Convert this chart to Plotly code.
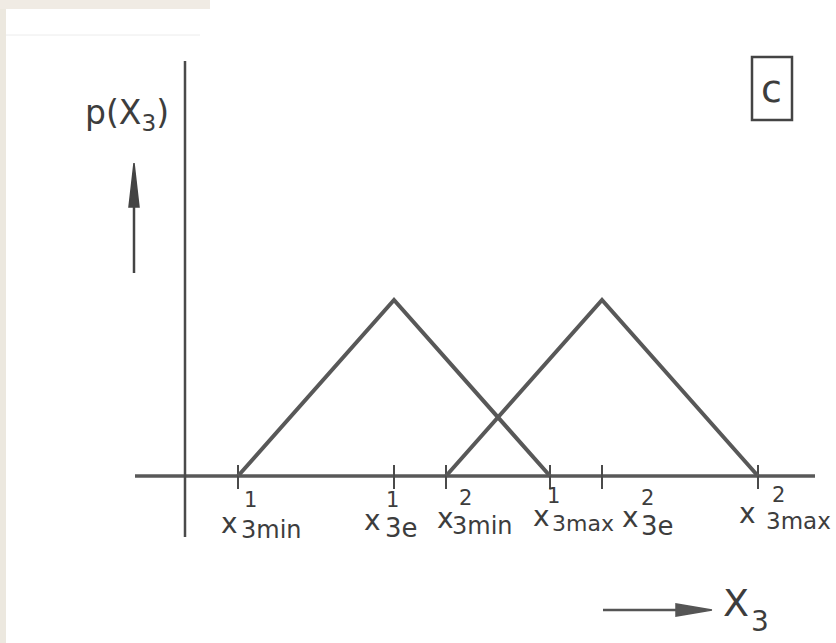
import plotly.graph_objects as go

# ---------------- data ----------------
dist_ids = ["1", "2"]
x_min = [1.0, 5.0]          # x_3min^1, x_3min^2
x_e = [4.0, 8.0]            # x_3e^1,   x_3e^2
x_max = [7.0, 11.0]         # x_3max^1, x_3max^2
p_peak = [1.0, 1.0]         # triangle heights (arbitrary units)

tick_values = [1.0, 4.0, 5.0, 7.0, 8.0, 11.0]
tick_sub = ["3min", "3e", "3min", "3max", "3e", "3max"]
tick_sup = ["1", "1", "2", "1", "2", "2"]

y_title = "p(X<sub>3</sub>)"
x_title_main = "X"
x_title_sub = "3"
panel_tag = "c"

# ---------------- layout constants (pixel geometry) ----------------
W, H = 836, 643
X0_PX, UX = 186.0, 52.0     # pixel of x=0, pixels per x unit
Y0_PX, UY = 476.0, 176.0    # pixel of y=0, pixels per y unit


def px2x(px):
    return (px - X0_PX) / UX


def px2y(py):
    return (Y0_PX - py) / UY


INK = "#3d3d3d"
LINE = "#585858"
FONT = "DejaVu Sans"

# label offsets relative to tick (pixels): (dx, dy) for sup, "x", sub
sup_off = [(12, -24), (-2, -24), (19, -22), (3, -20), (45, -22), (20, -19)]
x_off = [(-9, -47), (-22, -44), (-1, -42), (-9, -40), (28, -41), (-11, -37)]
sub_off = [(33, -54), (7, -52), (36, -50), (33, -47), (55, -50), (40, -45)]
sub_size = [24, 26, 24, 22, 26, 23]

fig = go.Figure()

# axes lines
fig.add_trace(go.Scatter(x=[px2x(135), px2x(815)], y=[0, 0], mode="lines",
                         line=dict(color=LINE, width=3.5), hoverinfo="skip"))
fig.add_trace(go.Scatter(x=[px2x(185), px2x(185)], y=[px2y(61), px2y(537)], mode="lines",
                         line=dict(color="#4a4a4a", width=2.5), hoverinfo="skip"))

# tick marks
tx, ty = [], []
for t in tick_values:
    tx += [t, t, None]
    ty += [px2y(465), px2y(489), None]
fig.add_trace(go.Scatter(x=tx, y=ty, mode="lines", line=dict(color="#4a4a4a", width=2),
                         hoverinfo="skip"))

# triangular distributions
for i in range(len(dist_ids)):
    fig.add_trace(go.Scatter(x=[x_min[i], x_e[i], x_max[i]], y=[0, p_peak[i], 0],
                             mode="lines", line=dict(color=LINE, width=4),
                             name=dist_ids[i], hoverinfo="skip"))

# direction arrows (stems + filled heads)
fig.add_trace(go.Scatter(x=[px2x(134), px2x(134)], y=[px2y(273), px2y(195)], mode="lines",
                         line=dict(color="#444", width=2.5), hoverinfo="skip"))
fig.add_trace(go.Scatter(x=[px2x(134), px2x(129), px2x(139), px2x(134)],
                         y=[px2y(163), px2y(207), px2y(207), px2y(163)],
                         mode="lines", fill="toself", fillcolor="#444",
                         line=dict(color="#444", width=1.5), hoverinfo="skip"))
fig.add_trace(go.Scatter(x=[px2x(603), px2x(685)], y=[px2y(610), px2y(610)], mode="lines",
                         line=dict(color="#555", width=2.5), hoverinfo="skip"))
fig.add_trace(go.Scatter(x=[px2x(712), px2x(676), px2x(676), px2x(712)],
                         y=[px2y(610), px2y(604), px2y(616), px2y(610)],
                         mode="lines", fill="toself", fillcolor="#555",
                         line=dict(color="#555", width=1.5), hoverinfo="skip"))

ann = []
for i, t in enumerate(tick_values):
    for txt, (dx, dy), size in ((tick_sup[i], sup_off[i], 21),
                                ("x", x_off[i], 28),
                                (tick_sub[i], sub_off[i], sub_size[i])):
        ann.append(dict(x=t, y=0, xref="x", yref="y", text=txt, showarrow=False,
                        xshift=dx, yshift=dy, xanchor="center", yanchor="middle",
                        font=dict(family=FONT, size=size, color=INK)))

# y title
ann.append(dict(x=px2x(127), y=px2y(114), text=y_title, showarrow=False,
                xanchor="center", yanchor="middle",
                font=dict(family=FONT, size=33, color=INK)))

# x title
ann.append(dict(x=px2x(736), y=px2y(603), text=x_title_main, showarrow=False,
                xanchor="center", yanchor="middle",
                font=dict(family=FONT, size=38, color=INK)))
ann.append(dict(x=px2x(760), y=px2y(621), text=x_title_sub, showarrow=False,
                xanchor="center", yanchor="middle",
                font=dict(family=FONT, size=28, color=INK)))

# panel tag
ann.append(dict(x=px2x(771), y=px2y(89), text=panel_tag, showarrow=False,
                xanchor="center", yanchor="middle",
                font=dict(family=FONT, size=38, color=INK)))

shapes = [
    dict(type="rect", xref="x", yref="y", x0=px2x(752), x1=px2x(792),
         y0=px2y(57), y1=px2y(120), line=dict(color="#444", width=2.5)),
    # scan edges
    dict(type="rect", xref="paper", yref="paper", x0=0, x1=6 / W, y0=0, y1=1,
         fillcolor="#ece8df", line=dict(width=0), layer="below"),
    dict(type="rect", xref="paper", yref="paper", x0=0, x1=210 / W, y0=1 - 9 / H, y1=1,
         fillcolor="#f0ebe4", line=dict(width=0), layer="below"),
    dict(type="line", xref="paper", yref="paper", x0=6 / W, x1=200 / W,
         y0=1 - 35 / H, y1=1 - 35 / H, line=dict(color="#ececec", width=1), layer="below"),
]

fig.update_layout(
    width=W, height=H, autosize=False,
    margin=dict(l=0, r=0, t=0, b=0, pad=0),
    paper_bgcolor="white", plot_bgcolor="white",
    showlegend=False,
    xaxis=dict(range=[px2x(0), px2x(W)], visible=False, fixedrange=True),
    yaxis=dict(range=[px2y(H), px2y(0)], visible=False, fixedrange=True),
    annotations=ann, shapes=shapes,
)

fig.write_html("out.html", config={"displayModeBar": False},
               post_script="document.body.style.margin='0';document.body.style.overflow='hidden';")
